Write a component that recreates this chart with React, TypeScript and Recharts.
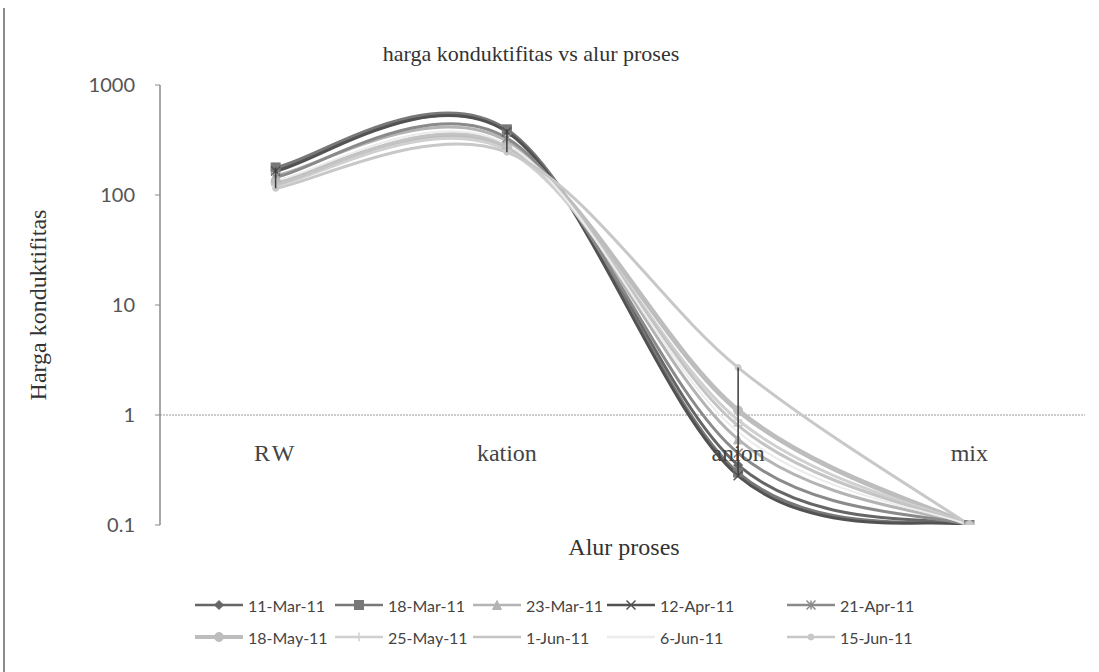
import React from 'react';
import { LineChart, Line, XAxis, YAxis, ReferenceLine, ErrorBar, Legend } from 'recharts';

// ---- data ----
const categories = ['RW', 'kation', 'anion', 'mix'];
const mar11 = [170, 385, 0.35, 0.1];
const mar18 = [178, 395, 0.3, 0.1];
const mar23 = [150, 310, 0.6, 0.1];
const apr12 = [165, 375, 0.28, 0.1];
const apr21 = [145, 330, 0.45, 0.1];
const may18 = [130, 270, 1.1, 0.1];
const may25 = [122, 255, 0.9, 0.1];
const jun1 = [125, 280, 0.8, 0.1];
const jun6 = [135, 290, 0.7, 0.1];
const jun15 = [115, 245, 2.7, 0.1];
const seriesNames = ['11-Mar-11', '18-Mar-11', '23-Mar-11', '12-Apr-11', '21-Apr-11', '18-May-11', '25-May-11', '1-Jun-11', '6-Jun-11', '15-Jun-11'];
const seriesValues = [mar11, mar18, mar23, apr12, apr21, may18, may25, jun1, jun6, jun15];
const yTicks = [0.1, 1, 10, 100, 1000];

// ---- styles ----
const seriesStyles = [
  { color: '#666666', marker: 'diamond', width: 3 },
  { color: '#787878', marker: 'square', width: 3 },
  { color: '#b4b4b4', marker: 'triangle', width: 3 },
  { color: '#525252', marker: 'x', width: 3 },
  { color: '#8a8a8a', marker: 'star', width: 3 },
  { color: '#bdbdbd', marker: 'circle', width: 5 },
  { color: '#d0d0d0', marker: 'plus', width: 3 },
  { color: '#c4c4c4', marker: 'dash', width: 3 },
  { color: '#ececec', marker: 'none', width: 2 },
  { color: '#c8c8c8', marker: 'dot', width: 3 },
];
const legendCols = [195, 335, 473, 607, 787];
const lastIdx = seriesValues.length - 1;

const data = categories.map((cat, i) => {
  const row: any = { cat };
  seriesValues.forEach((vals, s) => { row['s' + s] = vals[i]; });
  const all = seriesValues.map((v) => v[i]);
  const lo = Math.min(...all);
  const hi = Math.max(...all);
  const ref = seriesValues[lastIdx][i];
  row.hl = [ref - lo, hi - ref];
  return row;
});

// Excel-like smoothed curve (Catmull-Rom bezier)
const excelSmooth: any = (context: any) => {
  let pts: number[][] = [];
  return {
    areaStart() {},
    areaEnd() {},
    lineStart() { pts = []; },
    point(x: number, y: number) { pts.push([+x, +y]); },
    lineEnd() {
      const n = pts.length;
      if (!n) return;
      context.moveTo(pts[0][0], pts[0][1]);
      for (let i = 0; i < n - 1; i++) {
        const p0 = pts[Math.max(i - 1, 0)];
        const p1 = pts[i];
        const p2 = pts[i + 1];
        const p3 = pts[Math.min(i + 2, n - 1)];
        context.bezierCurveTo(
          p1[0] + (p2[0] - p0[0]) / 6, p1[1] + (p2[1] - p0[1]) / 6,
          p2[0] - (p3[0] - p1[0]) / 6, p2[1] - (p3[1] - p1[1]) / 6,
          p2[0], p2[1]
        );
      }
    },
  };
};

function Marker({ type, cx, cy, color }: any) {
  const r = 4.5;
  switch (type) {
    case 'diamond':
      return <polygon points={`${cx},${cy - r} ${cx + r},${cy} ${cx},${cy + r} ${cx - r},${cy}`} fill={color} stroke={color} />;
    case 'square':
      return <rect x={cx - r} y={cy - r} width={2 * r} height={2 * r} fill={color} stroke={color} />;
    case 'triangle':
      return <polygon points={`${cx},${cy - r} ${cx + r},${cy + r} ${cx - r},${cy + r}`} fill={color} stroke={color} />;
    case 'x':
      return <g stroke={color} strokeWidth={1.5}><line x1={cx - r} y1={cy - r} x2={cx + r} y2={cy + r} /><line x1={cx - r} y1={cy + r} x2={cx + r} y2={cy - r} /></g>;
    case 'star':
      return <g stroke={color} strokeWidth={1.5}><line x1={cx - r} y1={cy - r} x2={cx + r} y2={cy + r} /><line x1={cx - r} y1={cy + r} x2={cx + r} y2={cy - r} /><line x1={cx} y1={cy - r} x2={cx} y2={cy + r} /></g>;
    case 'circle':
      return <circle cx={cx} cy={cy} r={r} fill={color} stroke={color} />;
    case 'plus':
      return <g stroke={color} strokeWidth={1.5}><line x1={cx - r} y1={cy} x2={cx + r} y2={cy} /><line x1={cx} y1={cy - r} x2={cx} y2={cy + r} /></g>;
    case 'dash':
      return <line x1={cx - r} y1={cy} x2={cx + r} y2={cy} stroke={color} strokeWidth={2} />;
    case 'dot':
      return <circle cx={cx} cy={cy} r={3} fill={color} stroke={color} />;
    default:
      return <g />;
  }
}

function LegendBox() {
  return (
    <div style={{ position: 'relative', width: 900, height: 70, fontFamily: 'Lato, sans-serif', fontSize: 16, color: '#444' }}>
      {seriesNames.map((name, i) => {
        const st = seriesStyles[i];
        const row = Math.floor(i / 5);
        const col = i % 5;
        return (
          <div key={name} style={{ position: 'absolute', left: legendCols[col] - 190, top: row * 32, display: 'flex', alignItems: 'center', height: 20 }}>
            <svg width={48} height={20} style={{ display: 'block' }}>
              <line x1={0} y1={10} x2={48} y2={10} stroke={st.color} strokeWidth={st.width === 5 ? 4 : 2.5} />
              <Marker type={st.marker} cx={24} cy={10} color={st.color} />
            </svg>
            <span style={{ marginLeft: 5, whiteSpace: 'nowrap' }}>{name}</span>
          </div>
        );
      })}
    </div>
  );
}

function CatTick(props: any) {
  const { x, y, payload } = props;
  return (
    <text x={x} y={y - 64} textAnchor="middle" fill="#444" fontFamily="'Liberation Serif', 'Times New Roman', serif" fontSize={24} letterSpacing={payload.value === 'RW' ? 3 : 0}>
      {payload.value}
    </text>
  );
}

export default function App() {
  return (
    <div style={{ position: 'absolute', left: 0, top: 0, width: 1099, height: 672, background: '#fff', overflow: 'hidden' }}>
      <div style={{ position: 'absolute', left: 3, top: 8, width: 2, height: 664, background: '#8a8a8a' }} />
      <div style={{ position: 'absolute', left: 0, width: 1062, top: 41, textAlign: 'center', fontFamily: "'Liberation Serif', serif", fontSize: 22, color: '#333' }}>
        harga konduktifitas vs alur proses
      </div>
      <div style={{ position: 'absolute', left: 38, top: 305, transform: 'translate(-50%, -50%) rotate(-90deg)', whiteSpace: 'nowrap', fontFamily: "'Liberation Serif', serif", fontSize: 24, color: '#333' }}>
        Harga konduktifitas
      </div>
      <div style={{ position: 'absolute', left: 624, top: 547, transform: 'translate(-50%, -50%)', whiteSpace: 'nowrap', fontFamily: "'Liberation Serif', serif", fontSize: 24, color: '#333' }}>
        Alur proses
      </div>
      <LineChart width={1099} height={672} data={data} margin={{ top: 85, right: 14, bottom: 117, left: 60 }} style={{ position: 'absolute', left: 0, top: 0 }}>
        <XAxis dataKey="cat" scale="band" height={30} axisLine={false} tickLine={false} tickSize={0} tickMargin={0} tick={<CatTick />} interval={0} />
        <YAxis
          scale="log"
          domain={[0.1, 1000]}
          ticks={yTicks}
          allowDataOverflow
          width={100}
          axisLine={{ stroke: '#8a8a8a', strokeWidth: 1.5 }}
          tickLine={{ stroke: '#8a8a8a' }}
          tickSize={5}
          tickMargin={20}
          tick={{ fill: '#555', fontSize: 20, fontFamily: 'Lato, sans-serif' }}
          tickFormatter={(v: number) => String(v)}
        />
        <ReferenceLine y={1} stroke="#9a9a9a" strokeDasharray="2 1" strokeWidth={1} />
        {seriesNames.map((name, i) => {
          const st = seriesStyles[i];
          return (
            <Line
              key={name}
              name={name}
              dataKey={'s' + i}
              type={excelSmooth}
              stroke={st.color}
              strokeWidth={st.width}
              isAnimationActive={false}
              dot={(p: any) => <Marker key={name + '-' + p.index} type={st.marker} cx={p.cx} cy={p.cy} color={st.color} />}
              activeDot={false}
            />
          );
        })}
        {/* high-low lines drawn on top of all series */}
        <Line
          key="highlow"
          dataKey={'s' + lastIdx}
          stroke="none"
          dot={false}
          activeDot={false}
          legendType="none"
          isAnimationActive={false}
        >
          <ErrorBar dataKey="hl" direction="y" width={0} stroke="#3c3c3c" strokeWidth={1.5} zIndex={2000} />
        </Line>
        <Legend layout="horizontal" verticalAlign="middle" align="center" content={() => <LegendBox />} wrapperStyle={{ position: 'absolute', left: 190, top: 595, width: 900, height: 70 }} />
      </LineChart>
    </div>
  );
}
